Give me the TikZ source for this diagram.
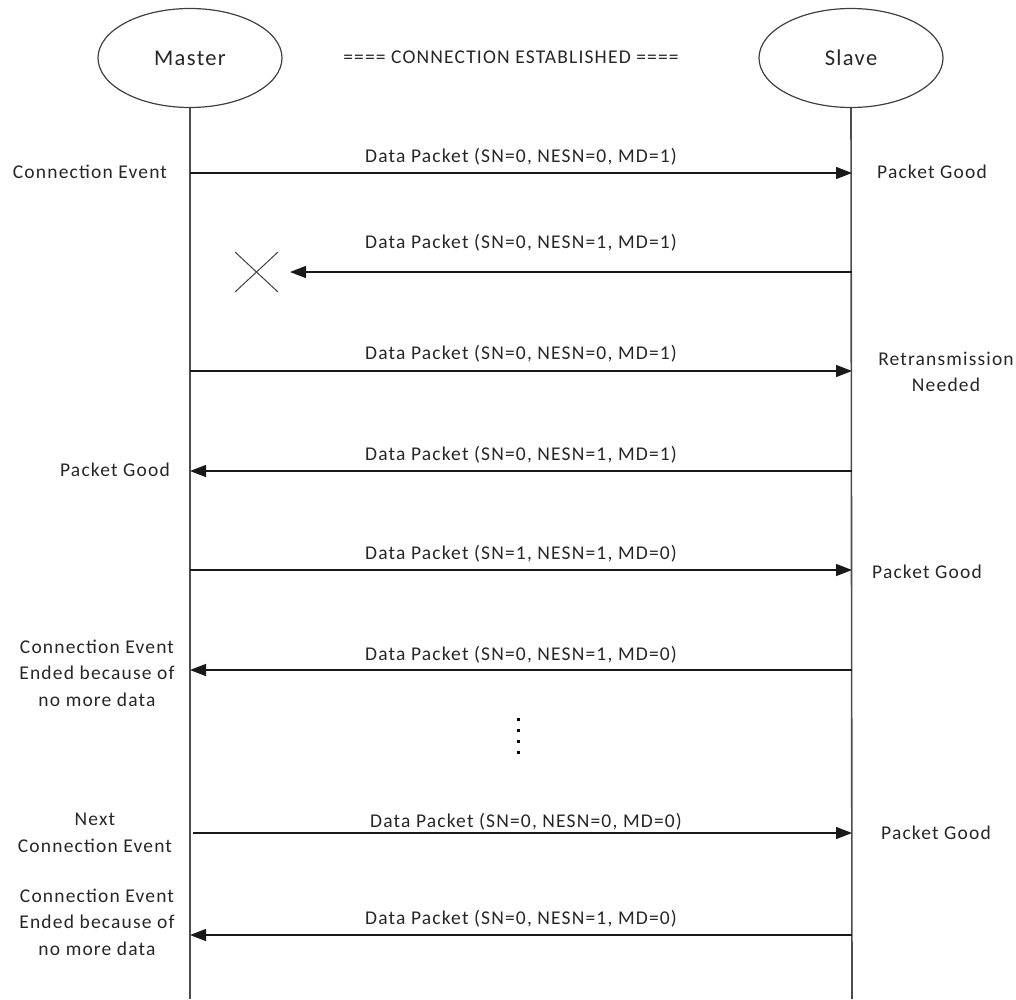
\documentclass[tikz,border=0pt]{standalone}
\usepackage{fontspec}
\setmainfont{Carlito}[LetterSpace=6]
\usetikzlibrary{arrows.meta,shapes.geometric}
\begin{document}
\begin{tikzpicture}[x=1pt,y=-1pt,
  actor/.style={draw=black!75, line width=1.2pt, ellipse, minimum width=184pt, minimum height=99pt, inner sep=0pt, font=\fontsize{22.5}{26}\selectfont, text=black!85},
  life/.style={draw=black!70, line width=1.6pt},
  msg/.style={-{Triangle[length=16pt,width=12pt]}, line width=1.3pt, draw=black!90},
  lbl/.style={font=\fontsize{19.5}{26.5}\selectfont, text=black!85, inner sep=0pt, align=center},
  dot/.style={fill=black, minimum size=3pt, inner sep=0pt, rectangle}
]
\useasboundingbox (0,0) rectangle (1016,999);

% actors
\node[actor] (M) at (190,58) {Master};
\node[actor] (S) at (851,58) {Slave};
\node[lbl] (hdr) at (511,57) {==== CONNECTION ESTABLISHED ====};

% lifeline ends
\coordinate (Mend) at (190,999);
\coordinate (Send) at (852,999);
\draw[life] (M.south) -- (Mend);
\draw[life] (S.south) -- (Send);

% row coordinates
\coordinate (m1) at (190,173); \coordinate (s1) at (852,173);
\coordinate (lost) at (290,272); \coordinate (s2) at (852,272);
\coordinate (m3) at (190,371); \coordinate (s3) at (852,371);
\coordinate (m4) at (190,471); \coordinate (s4) at (852,471);
\coordinate (m5) at (190,570); \coordinate (s5) at (852,570);
\coordinate (m6) at (190,670); \coordinate (s6) at (852,670);
\coordinate (m7) at (193,833); \coordinate (s7) at (852,833);
\coordinate (m8) at (190,935); \coordinate (s8) at (852,935);

% messages
\draw[msg] (m1) -- (s1);
\draw[msg] (s2) -- (lost);
\draw[msg] (m3) -- (s3);
\draw[msg] (s4) -- (m4);
\draw[msg] (m5) -- (s5);
\draw[msg] (s6) -- (m6);
\draw[msg] (m7) -- (s7);
\draw[msg] (s8) -- (m8);

% message labels
\node[lbl] (l1) at (521,157) {Data Packet (SN=0, NESN=0, MD=1)};
\node[lbl] (l2) at (521,243) {Data Packet (SN=0, NESN=1, MD=1)};
\node[lbl] (l3) at (521,354) {Data Packet (SN=0, NESN=0, MD=1)};
\node[lbl] (l4) at (521,455) {Data Packet (SN=0, NESN=1, MD=1)};
\node[lbl] (l5) at (521,554) {Data Packet (SN=1, NESN=1, MD=0)};
\node[lbl] (l6) at (521,655) {Data Packet (SN=0, NESN=1, MD=0)};
\node[lbl] (l7) at (526,822) {Data Packet (SN=0, NESN=0, MD=0)};
\node[lbl] (l8) at (521,919) {Data Packet (SN=0, NESN=1, MD=0)};

% lost packet cross
\coordinate (x1) at (235,252); \coordinate (x2) at (278,292);
\coordinate (x3) at (235,292); \coordinate (x4) at (278,252);
\draw[line width=1pt, draw=black!75] (x1) -- (x2);
\draw[line width=1pt, draw=black!75] (x3) -- (x4);

% side labels
\node[lbl] (a1) at (90,172) {Connection Event};
\node[lbl] (b1) at (932,172) {Packet Good};
\node[lbl] (b3) at (946,372) {Retransmission\\Needed};
\node[lbl] (a4) at (115,470) {Packet Good};
\node[lbl] (b5) at (927,572) {Packet Good};
\node[lbl] (a6) at (97,673) {Connection Event\\Ended because of\\no more data};
\node[lbl] (a7) at (95,833) {Next\\Connection Event};
\node[lbl] (b7) at (936,833) {Packet Good};
\node[lbl] (a8) at (97,922) {Connection Event\\Ended because of\\no more data};

% continuation dots
\node[dot] (d1) at (518,719) {};
\node[dot] (d2) at (518,730) {};
\node[dot] (d3) at (518,741) {};
\node[dot] (d4) at (518,752) {};
\end{tikzpicture}
\end{document}
